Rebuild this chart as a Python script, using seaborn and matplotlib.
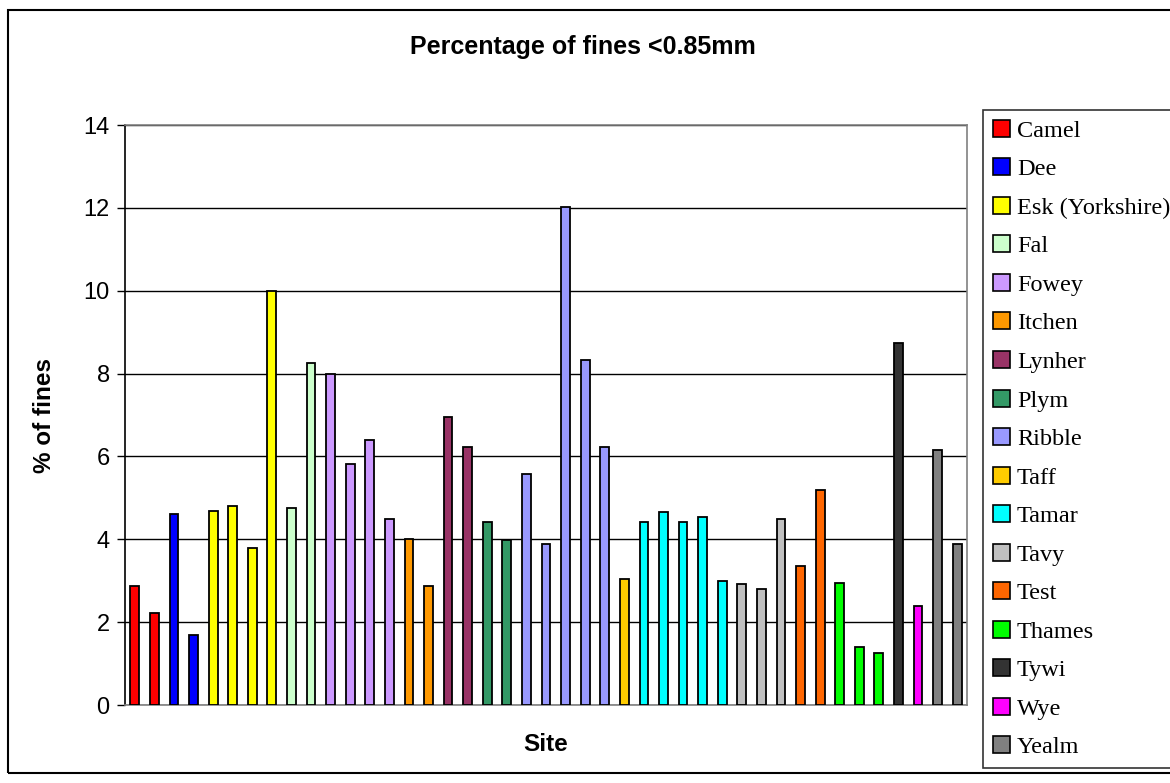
import matplotlib
matplotlib.use("Agg")
import matplotlib.pyplot as plt
import seaborn as sns
import pandas as pd
from matplotlib.patches import Patch, Rectangle

rivers = ["Camel", "Dee", "Esk (Yorkshire)", "Fal", "Fowey", "Itchen", "Lynher",
          "Plym", "Ribble", "Taff", "Tamar", "Tavy", "Test", "Thames", "Tywi",
          "Wye", "Yealm"]
colors = ["#FF0000", "#0000FF", "#FFFF00", "#CCFFCC", "#CC99FF", "#FF9900", "#993366",
          "#339966", "#9999FF", "#FFCC00", "#00FFFF", "#C0C0C0", "#FF6600", "#00FF00",
          "#333333", "#FF00FF", "#808080"]

camel = [2.87, 2.21]
dee = [4.61, 1.70]
esk = [4.69, 4.80, 3.80, 10.0]
fal = [4.75, 8.25]
fowey = [8.0, 5.81, 6.39, 4.49]
itchen = [4.0, 2.87]
lynher = [6.96, 6.23]
plym = [4.42, 3.99]
ribble = [5.57, 3.88, 12.03, 8.32, 6.23]
taff = [3.03]
tamar = [4.42, 4.66, 4.42, 4.54, 2.99]
tavy = [2.91, 2.80, 4.50]
test = [3.35, 5.20]
thames = [2.95, 1.40, 1.25]
tywi = [8.74]
wye = [2.40]
yealm = [6.15, 3.88]

series = [camel, dee, esk, fal, fowey, itchen, lynher, plym, ribble, taff, tamar,
          tavy, test, thames, tywi, wye, yealm]

rows = []
for river, vals in zip(rivers, series):
    for i, v in enumerate(vals):
        rows.append({"site": f"{river} {i+1}", "river": river, "value": v})
df = pd.DataFrame(rows)

sns.set_style("white")
plt.rcParams["font.family"] = ["Liberation Sans", "DejaVu Sans"]
plt.rcParams["text.color"] = "black"
plt.rcParams["axes.labelcolor"] = "black"
plt.rcParams["xtick.color"] = "black"
plt.rcParams["ytick.color"] = "black"

W, H = 1170, 783
fig = plt.figure(figsize=(W / 100, H / 100), dpi=100)
ax = fig.add_axes([125 / W, 1 - 705 / H, 842 / W, 580 / H])

palette = dict(zip(rivers, colors))
sns.barplot(data=df, x="site", y="value", hue="river", palette=palette,
            dodge=False, width=0.45, edgecolor="black", linewidth=1.3,
            saturation=1, legend=False, ax=ax, zorder=3)

ax.set_ylim(0, 14)
ax.set_xlim(-0.5, len(df) - 0.5)
ax.set_yticks(range(0, 15, 2))
ax.yaxis.grid(True, color="black", linewidth=1, zorder=0)
ax.set_axisbelow(True)
ax.set_xticks([])
ax.tick_params(axis="y", direction="out", length=6, width=1, color="black",
               labelcolor="black", labelsize=17, pad=5, left=True)
for s in ["top", "right", "bottom"]:
    ax.spines[s].set_color("#808080")
    ax.spines[s].set_linewidth(1.2)
ax.spines["left"].set_color("black")
ax.spines["left"].set_linewidth(1.2)

ax.set_xlabel("Site", fontsize=17.5, fontweight="bold", labelpad=20, color="black")
ax.set_ylabel("% of fines", fontsize=17.5, fontweight="bold", labelpad=20, color="black")
fig.text(583 / W, 1 - 47 / H, "Percentage of fines <0.85mm", ha="center",
         va="center", fontsize=18, fontweight="bold", color="black")

handles = [Patch(facecolor=c, edgecolor="black", linewidth=1.2) for c in colors]
leg = fig.legend(handles, rivers, loc="upper left",
                 bbox_to_anchor=(983 / W, 1 - 110 / H), bbox_transform=fig.transFigure,
                 prop={"family": "Liberation Serif", "size": 17.5},
                 frameon=True, fancybox=False, borderaxespad=0,
                 handlelength=0.7, handleheight=0.7, handletextpad=0.3,
                 labelspacing=0.68, borderpad=0.4)
leg.get_frame().set_edgecolor("black")
leg.get_frame().set_linewidth(1.2)
for t in leg.get_texts():
    t.set_color("black")

fig.patches.append(Rectangle((8 / W, 1 - 773 / H), 1.2, (773 - 10) / H,
                             transform=fig.transFigure, fill=False,
                             edgecolor="black", linewidth=1.5))

fig.savefig("out.png", dpi=100)
